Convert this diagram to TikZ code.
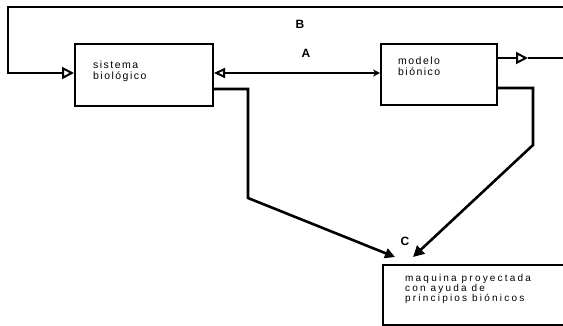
\documentclass[tikz,border=0pt]{standalone}
\usepackage{fontspec}
\setmainfont{Liberation Sans}
\usetikzlibrary{arrows.meta}
\begin{document}
\begin{tikzpicture}[x=1pt,y=-1pt,
  box/.style={draw, line width=2pt, inner sep=0pt},
  txt/.style={anchor=north west, align=left, inner sep=0pt,
    font=\fontsize{10.5}{11}\selectfont\addfontfeatures{LetterSpace=14}},
  conn/.style={line width=2.6pt},
  openhead/.style={-{Triangle[open,length=12pt,width=12pt,line width=2pt]}},
  lbl/.style={font=\fontsize{12}{13}\selectfont\bfseries}]
\useasboundingbox (0,0) rectangle (563,326);
\clip (0,0) rectangle (563,326);
% boxes
\node[box, minimum width=138pt, minimum height=62pt, anchor=north west] (sis) at (74,43) {};
\node[txt] (sist) at ([xshift=19pt,yshift=-18pt]sis.north west) {sistema\\biológico};
\node[box, minimum width=116pt, minimum height=61pt, anchor=north west] (mod) at (380,43) {};
\node[txt] (modt) at ([xshift=18pt,yshift=-14pt]mod.north west) {modelo\\biónico};
\node[box, minimum width=190pt, minimum height=60pt, anchor=north west] (mq) at (382,264) {};
\node[txt, font=\fontsize{10}{10}\selectfont\addfontfeatures{LetterSpace=22}] (mqt) at ([xshift=23pt,yshift=-10pt]mq.north west) {maquina proyectada\\con ayuda de\\principios biónicos};
% labels
\node[lbl] (B) at (300,24) {B};
\node[lbl] (A) at (306,53) {A};
\node[lbl] (C) at (405,241) {C};
% coordinates
\coordinate (bin) at (563,7);
\coordinate (b1) at (8,7);
\coordinate (b2) at (8,73);
\coordinate (out0) at (496,58);
\coordinate (out1) at (528,58);
\coordinate (out2) at (563,58);
\coordinate (s0) at (212,89);
\coordinate (s1) at (248,89);
\coordinate (s2) at (248,198);
\coordinate (c1) at (395,257);
\coordinate (m0) at (496,88);
\coordinate (m1) at (533,88);
\coordinate (m2) at (533,145);
\coordinate (c2) at (413,257);
% connectors
\draw[conn, openhead] (bin) -- (b1) -- (b2) -- (sis.west |- b2);
\draw[conn, {Triangle[open,length=11pt,width=10pt,line width=2pt]}-{Stealth[length=7pt,width=7pt]}] (sis.east |- 0,73) -- (mod.west |- 0,73);
\draw[conn, openhead] (out0) -- (out1);
\draw[conn] (out1) -- (out2);
\draw[conn, line join=miter, -{Triangle[length=10pt,width=10pt]}] (s0) -- (s1) -- (s2) -- (c1);
\draw[conn, line join=miter, -{Triangle[length=11pt,width=11pt]}] (m0) -- (m1) -- (m2) -- (c2);
\end{tikzpicture}
\end{document}
